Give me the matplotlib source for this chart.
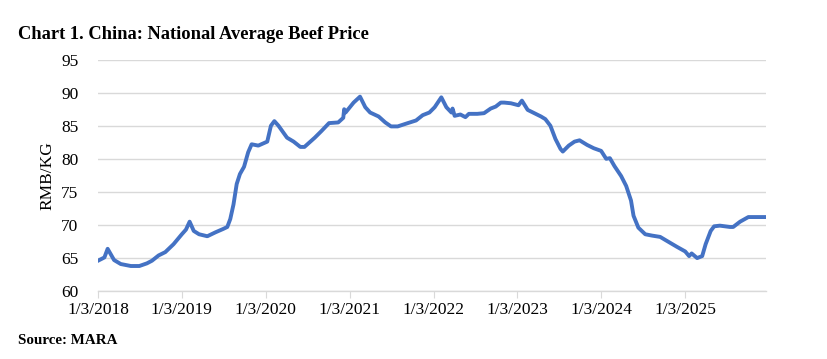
import numpy as np
import matplotlib
matplotlib.use("Agg")
import matplotlib.pyplot as plt
import matplotlib.dates as mdates
import pandas as pd

# weekly price series (RMB/KG)
dates = ["2018-01-03", "2018-01-20", "2018-01-31", "2018-02-14", "2018-03-14", "2018-04-12",
         "2018-05-26", "2018-07-02", "2018-08-04", "2018-08-26", "2018-09-24", "2018-10-23",
         "2018-11-28", "2019-01-03", "2019-01-21", "2019-02-06", "2019-02-24", "2019-03-19",
         "2019-04-24", "2019-05-30", "2019-07-02", "2019-07-20", "2019-08-02", "2019-08-16",
         "2019-08-30", "2019-09-13", "2019-10-01", "2019-10-19", "2019-11-03", "2019-12-02",
         "2020-01-10", "2020-01-26", "2020-02-10", "2020-02-28", "2020-04-05", "2020-05-04",
         "2020-06-02", "2020-06-20", "2020-08-04", "2020-09-02", "2020-10-05", "2020-11-14",
         "2020-12-06", "2020-12-10", "2020-12-16", "2021-01-20", "2021-02-17", "2021-03-12",
         "2021-04-02", "2021-05-09", "2021-06-07", "2021-07-02", "2021-07-31", "2021-09-13",
         "2021-10-19", "2021-11-17", "2021-12-16", "2022-01-08", "2022-02-06", "2022-02-28",
         "2022-03-22", "2022-03-27", "2022-04-05", "2022-04-30", "2022-05-22", "2022-06-06",
         "2022-07-13", "2022-08-11", "2022-09-09", "2022-10-01", "2022-10-23", "2022-11-07",
         "2022-12-06", "2023-01-08", "2023-01-23", "2023-02-17", "2023-03-18", "2023-04-16",
         "2023-05-05", "2023-05-27", "2023-06-18", "2023-07-10", "2023-07-20", "2023-08-15",
         "2023-09-09", "2023-10-01", "2023-11-03", "2023-12-02", "2024-01-03", "2024-01-25",
         "2024-02-10", "2024-03-01", "2024-03-30", "2024-04-21", "2024-05-12", "2024-05-23",
         "2024-06-13", "2024-07-13", "2024-08-11", "2024-09-16", "2024-10-15", "2024-11-28",
         "2025-01-03", "2025-01-20", "2025-01-31", "2025-02-24", "2025-03-18", "2025-04-02",
         "2025-04-24", "2025-05-09", "2025-06-03", "2025-07-17", "2025-07-31", "2025-08-30",
         "2025-10-05", "2025-11-03", "2025-12-20"]
price = [64.6, 64.9, 65.1, 66.4, 64.7, 64.1,
         63.8, 63.8, 64.2, 64.6, 65.4, 65.9,
         67.1, 68.6, 69.3, 70.5, 69.1, 68.6,
         68.3, 68.9, 69.4, 69.7, 70.9, 73.1,
         76.2, 77.7, 78.8, 81.0, 82.2, 82.0,
         82.6, 85.0, 85.7, 85.0, 83.2, 82.6,
         81.8, 81.8, 83.2, 84.2, 85.4, 85.5,
         86.2, 87.5, 87.0, 88.5, 89.4, 87.8,
         87.0, 86.4, 85.5, 84.9, 84.9, 85.4,
         85.8, 86.6, 87.0, 87.8, 89.3, 87.8,
         87.0, 87.6, 86.5, 86.7, 86.3, 86.8,
         86.8, 86.9, 87.6, 87.9, 88.5, 88.5,
         88.4, 88.1, 88.8, 87.4, 86.9, 86.4,
         86.0, 85.0, 83.0, 81.5, 81.1, 82.0,
         82.6, 82.8, 82.1, 81.6, 81.2, 80.0,
         80.1, 78.9, 77.4, 75.9, 73.7, 71.4,
         69.6, 68.6, 68.4, 68.2, 67.6, 66.7,
         66.0, 65.3, 65.7, 65.0, 65.3, 67.1,
         69.1, 69.8, 69.9, 69.7, 69.7, 70.5,
         71.2, 71.2, 71.2]
tick_years = [2018, 2019, 2020, 2021, 2022, 2023, 2024, 2025]
y_ticks = [60, 65, 70, 75, 80, 85, 90, 95]

plt.rcParams['font.family'] = ['Liberation Serif', 'DejaVu Serif']

df = pd.DataFrame({"date": pd.to_datetime(dates), "price": price})

fig = plt.figure(figsize=(8.27, 3.59), dpi=100)
ax = fig.add_axes([0.1185, 0.189, 0.8075, 0.645])

ax.plot(df["date"], df["price"], color='#4472C4', linewidth=2.8, solid_joinstyle='round')

ax.set_ylim(60, 95)
ax.set_yticks(y_ticks)
ax.set_xlim(df["date"].iloc[0], df["date"].iloc[-1])
tick_dates = pd.to_datetime([f"{y}-01-03" for y in tick_years])
ax.set_xticks(tick_dates)
ax.set_xticklabels([f"1/3/{y}" for y in tick_years])

ax.grid(True, axis='y', color='#d9d9d9', linewidth=1)
ax.set_axisbelow(True)
for s in ['top', 'right', 'left']:
    ax.spines[s].set_visible(False)
ax.spines['bottom'].set_color('#d9d9d9')
ax.spines['bottom'].set_linewidth(1)
ax.tick_params(axis='y', length=0, labelsize=12.5, pad=14)
ax.tick_params(axis='x', length=5, color='#d9d9d9', labelsize=12.5, pad=3)
ax.set_ylabel('RMB/KG', fontsize=12.5, labelpad=4)

fig.text(0.022, 0.905, 'Chart 1. China: National Average Beef Price',
         fontsize=13.3, fontweight='bold', va='center')
fig.text(0.022, 0.052, 'Source: MARA', fontsize=10.8, fontweight='bold', va='center')

fig.savefig('out.png', dpi=100)
